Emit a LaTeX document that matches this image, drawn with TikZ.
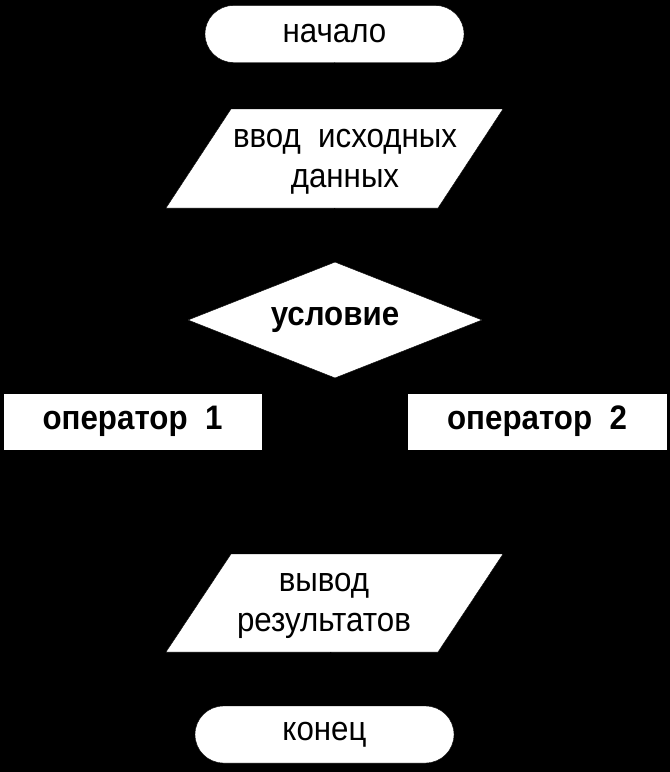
\documentclass[tikz,border=0pt]{standalone}
\usepackage{fontspec}
\setmainfont{Liberation Sans}[FakeStretch=0.92]
\usetikzlibrary{shapes.geometric,shapes.misc,arrows.meta}
\tikzset{
  txt/.style={font=\fontsize{34}{40}\selectfont, align=center, inner sep=0pt},
  btxt/.style={font=\fontsize{34}{40}\selectfont\bfseries, align=center, inner sep=0pt},
  term/.style={rounded rectangle, fill=white, draw=black, minimum width=259pt, minimum height=57pt, inner sep=0pt, txt},
  proc/.style={rectangle, fill=white, draw=black, minimum height=57pt, inner sep=0pt, btxt},
  dec/.style={diamond, fill=white, draw=black, aspect=2.5, minimum width=294pt, minimum height=116pt, inner sep=0pt, btxt},
  io/.style={fill=white, draw=black},
  link/.style={draw=black, line width=1pt}
}
\begin{document}
\begin{tikzpicture}[x=1pt,y=-1pt]
\fill[black] (0,0) rectangle (670,772);
\useasboundingbox (0,0) rectangle (670,772);
% start
\node[term] (start) at (334.5,34) {\raisebox{-3pt}{начало}};
% input
\draw[io] (231,109) -- (503,109) -- (438,208) -- (166,208) -- cycle;
\node[txt, minimum width=272pt, minimum height=99pt] (in) at (334.5,158.5) {};
\node[txt] (intext) at (345,162) {ввод\ \ исходных\\данных};
% decision
\node[dec] (cond) at (335,320) {\raisebox{3pt}{условие}};
% operators
\node[proc, minimum width=259pt] (op1) at (132.5,421.5) {\raisebox{-2pt}{оператор\ \ 1}};
\node[proc, minimum width=260pt] (op2) at (537,421.5) {\raisebox{-2pt}{оператор\ \ 2}};
% output
\draw[io] (231,554) -- (503,554) -- (438,652) -- (166,652) -- cycle;
\node[txt, minimum width=272pt, minimum height=98pt] (out) at (334.5,603) {};
\node[txt] (outtext) at (324,606) {вывод\\результатов};
% end
\node[term] (stop) at (324.5,734.5) {\raisebox{-3pt}{конец}};
% connectors (black, as in the original)
\coordinate (merge) at (334.5,505);
\draw[link] (start) -- (in);
\draw[link] (in) -- (cond);
\draw[link] (cond.west) -| (op1.north);
\draw[link] (cond.east) -| (op2.north);
\draw[link] (op1.south) |- (merge);
\draw[link] (op2.south) |- (merge);
\draw[link] (merge) -- (out);
\draw[link] (out) -- (stop);
\end{tikzpicture}
\end{document}
